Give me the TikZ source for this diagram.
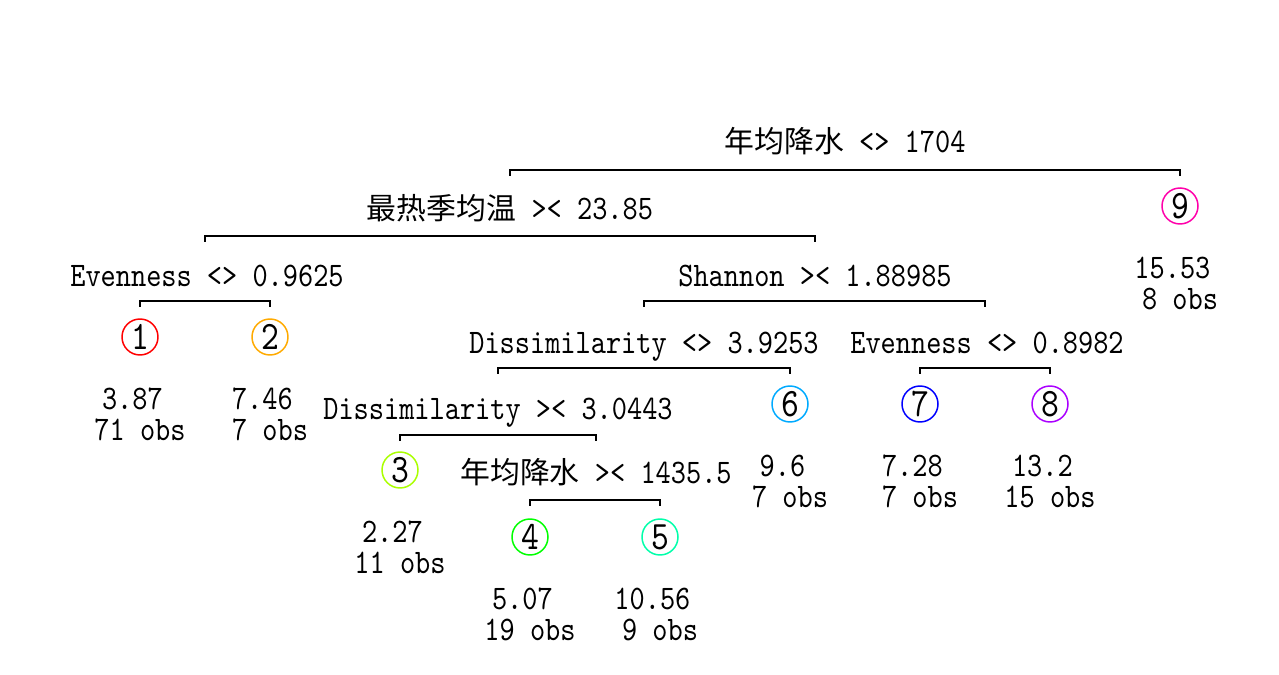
\documentclass[tikz,border=0pt]{standalone}
\usepackage{fontspec}
\setmainfont{lmmono10-regular.otf}[FakeStretch=0.84]
\newfontfamily\cjk{Noto Sans CJK SC}
\usetikzlibrary{positioning}
\definecolor{leafa}{HTML}{FF0000}
\definecolor{leafb}{HTML}{FFAA00}
\definecolor{leafc}{HTML}{AAFF00}
\definecolor{leafd}{HTML}{00FF00}
\definecolor{leafe}{HTML}{00FFAA}
\definecolor{leaff}{HTML}{00AAFF}
\definecolor{leafg}{HTML}{0000FF}
\definecolor{leafh}{HTML}{AA00FF}
\definecolor{leafi}{HTML}{FF00AA}
\newcommand{\zh}[1]{{\cjk\fontsize{17}{17}\selectfont #1}}
\newcommand{\leafinfo}[2]{#1\hphantom{0}\\#2 obs}

\begin{document}
\begin{tikzpicture}[x=0.02cm,y=-0.02cm,node distance=0.64cm]
  \tikzstyle{split}=[anchor=base,inner sep=0pt,font=\fontsize{19.6}{19.6}\selectfont]
  \tikzstyle{leaf}=[circle,draw,line width=0.85pt,minimum size=0.72cm,inner sep=0pt,
    font=\fontsize{23}{23}\selectfont]
  \tikzstyle{info}=[align=center,inner sep=0pt,font=\fontsize{19.6}{17.6}\selectfont]
  \tikzstyle{bar}=[line width=1.1pt]

  \useasboundingbox (0,0) rectangle (1279,675);

  % -- Split labels --
  \node[split] (rain)  at (845,153) {\zh{年均降水} <> 1704};
  \node[split] (heat)  at (510,220) {\zh{最热季均温} >< 23.85};
  \node[split] (even)  at (207,287) {Evenness <> 0.9625};
  \node[split] (shan)  at (815,287) {Shannon >< 1.88985};
  \node[split] (dissa) at (644,354) {Dissimilarity <> 3.9253};
  \node[split] (evenb) at (987,354) {Evenness <> 0.8982};
  \node[split] (dissb) at (498,420) {Dissimilarity >< 3.0443};
  \node[split] (rainb) at (596,484) {\zh{年均降水} >< 1435.5};

  % -- Leaves --
  \node[leaf,draw=leafa] (l1) at (140,337)  {\raisebox{-2pt}{1}};
  \node[leaf,draw=leafb] (l2) at (270,337)  {\raisebox{-2pt}{2}};
  \node[leaf,draw=leafc] (l3) at (400,470)  {\raisebox{-2pt}{3}};
  \node[leaf,draw=leafd] (l4) at (530,537)  {\raisebox{-2pt}{4}};
  \node[leaf,draw=leafe] (l5) at (660,537)  {\raisebox{-2pt}{5}};
  \node[leaf,draw=leaff] (l6) at (790,404)  {\raisebox{-2pt}{6}};
  \node[leaf,draw=leafg] (l7) at (920,404)  {\raisebox{-2pt}{7}};
  \node[leaf,draw=leafh] (l8) at (1050,404) {\raisebox{-2pt}{8}};
  \node[leaf,draw=leafi] (l9) at (1180,206) {\raisebox{-2pt}{9}};

  \node[info,below=of l1] (i1) {\leafinfo{3.87}{71}};
  \node[info,below=of l2] (i2) {\leafinfo{7.46}{7}};
  \node[info,below=of l3] (i3) {\leafinfo{2.27}{11}};
  \node[info,below=of l4] (i4) {\leafinfo{5.07}{19}};
  \node[info,below=of l5] (i5) {\leafinfo{10.56}{9}};
  \node[info,below=of l6] (i6) {\leafinfo{9.6}{7}};
  \node[info,below=of l7] (i7) {\leafinfo{7.28}{7}};
  \node[info,below=of l8] (i8) {\leafinfo{13.2}{15}};
  \node[info,below=of l9] (i9) {\leafinfo{15.53}{8}};

  % -- Bar ends --
  \coordinate (rainL)  at (510,170);  \coordinate (rainR)  at (1180,170);
  \coordinate (heatL)  at (205,236);  \coordinate (heatR)  at (815,236);
  \coordinate (evenL)  at (140,301);  \coordinate (evenR)  at (270,301);
  \coordinate (shanL)  at (644,301);  \coordinate (shanR)  at (985,301);
  \coordinate (dissaL) at (498,368);  \coordinate (dissaR) at (790,368);
  \coordinate (evenbL) at (920,368);  \coordinate (evenbR) at (1050,368);
  \coordinate (dissbL) at (400,435);  \coordinate (dissbR) at (596,435);
  \coordinate (rainbL) at (530,500);  \coordinate (rainbR) at (660,500);

  % -- Bars --
  \foreach \s in {rain,heat,even,shan,dissa,evenb,dissb,rainb}
    \draw[bar] (\s L) ++(0,6) -- (\s L) -- (\s R) -- ++(0,6);
\end{tikzpicture}
\end{document}
